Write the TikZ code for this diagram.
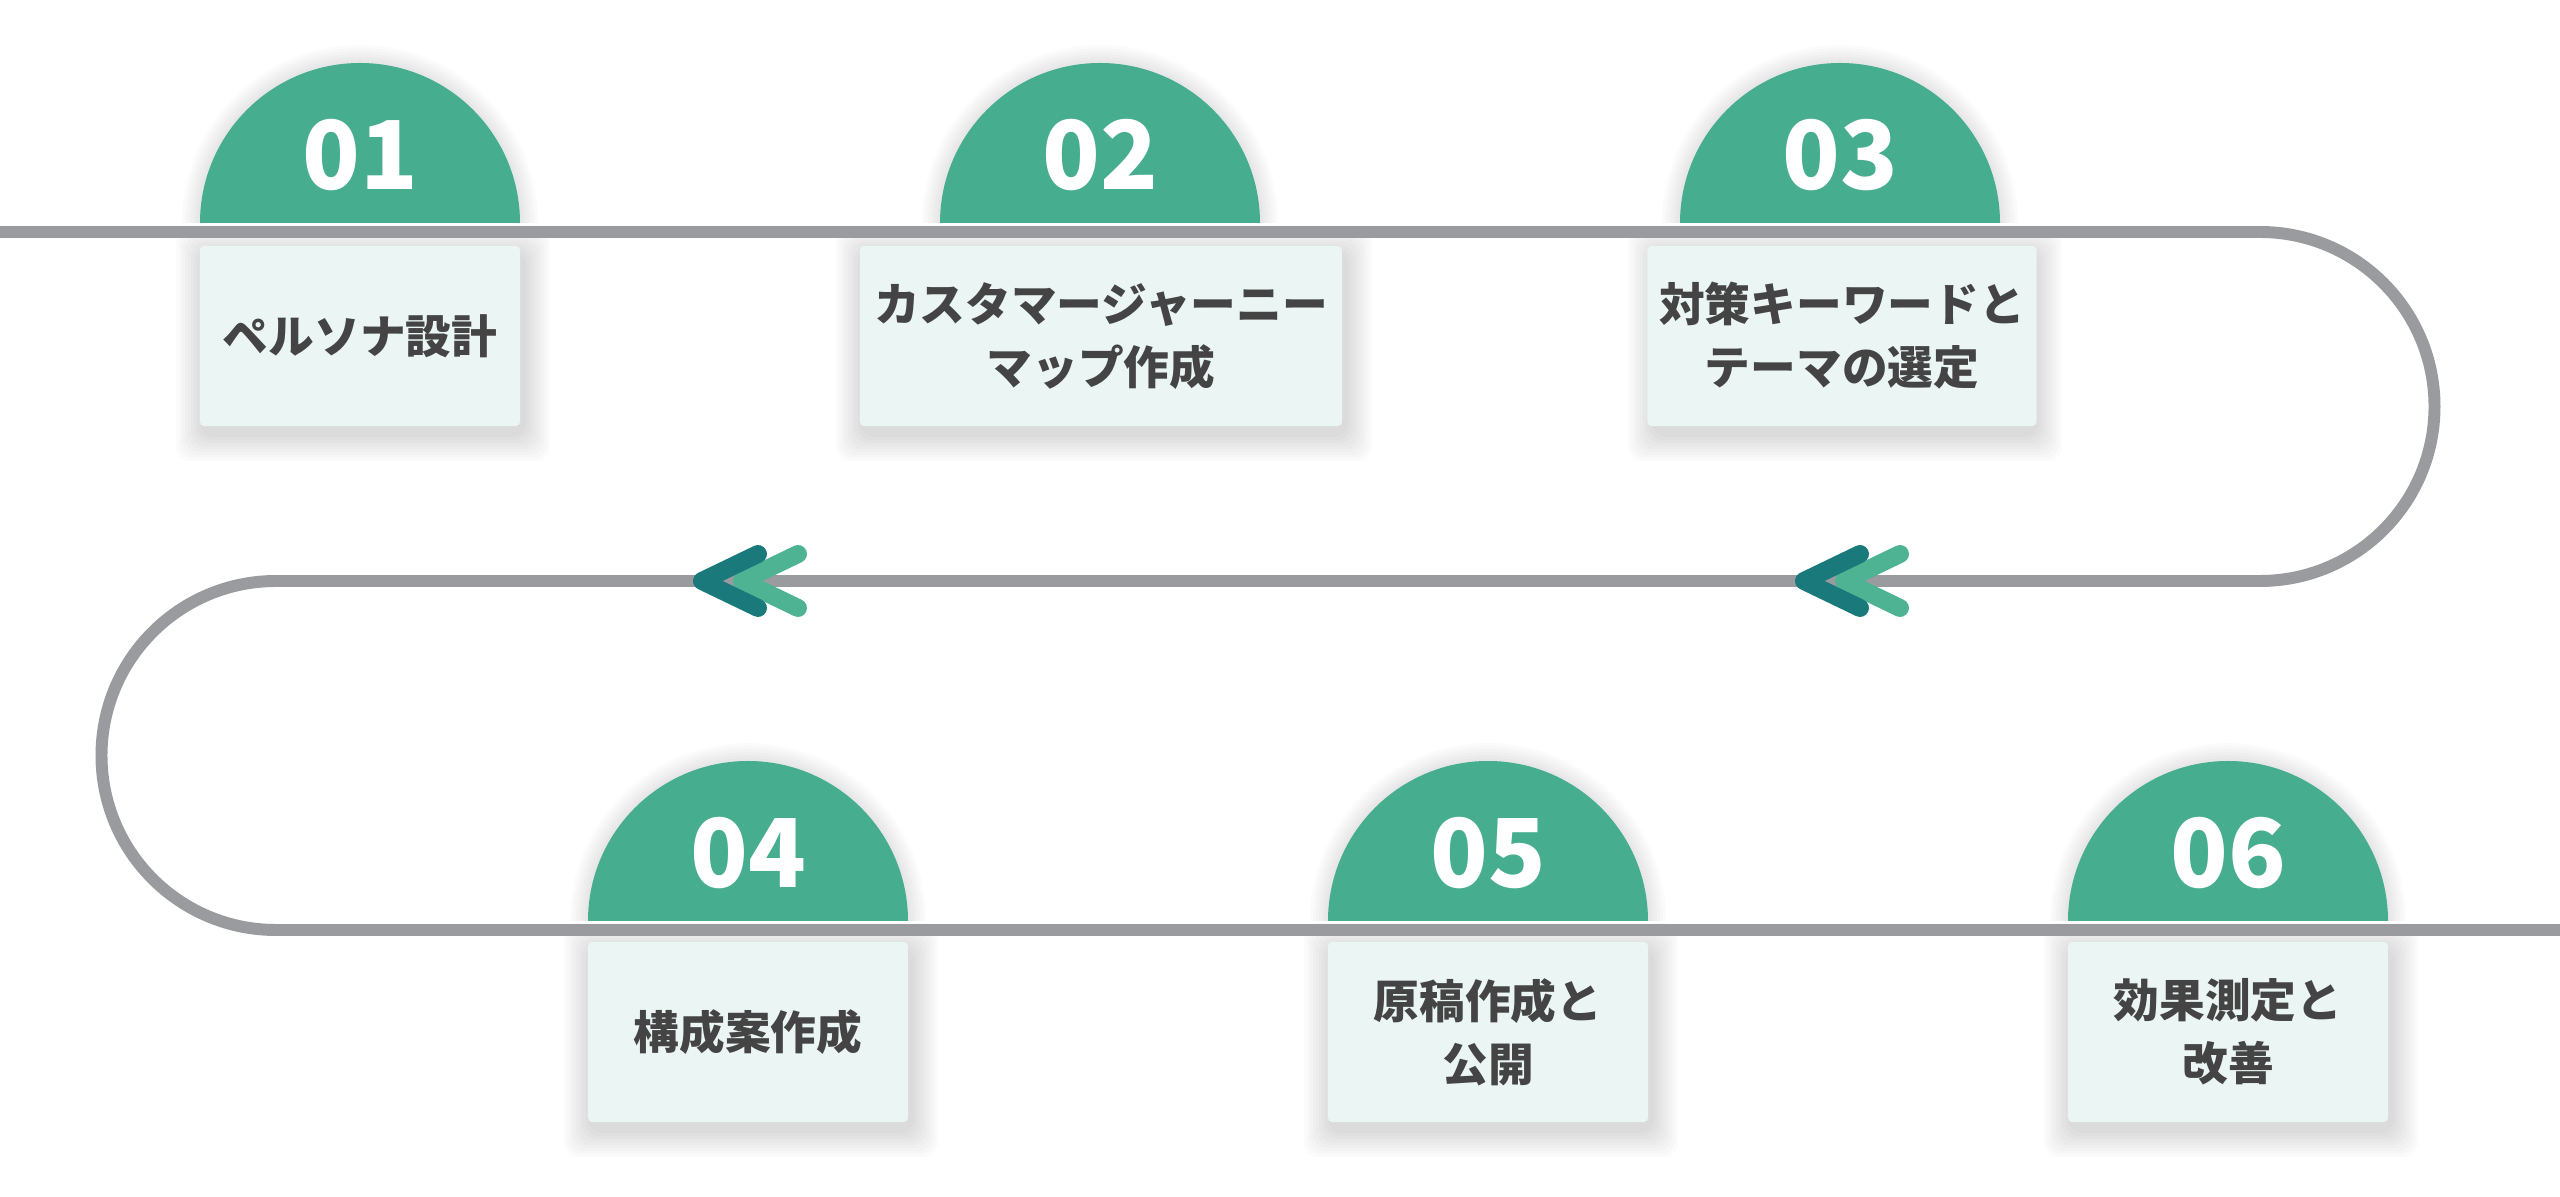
\documentclass[tikz,border=0pt]{standalone}
\usepackage{fontspec}
\setmainfont{Noto Sans CJK JP}
\definecolor{stepgreen}{HTML}{46AD8F}
\definecolor{boxfill}{HTML}{EAF5F4}
\definecolor{trackgray}{HTML}{999B9F}
\definecolor{darkteal}{HTML}{1A7A7B}
\definecolor{lightteal}{HTML}{4DB393}
\definecolor{labelgray}{HTML}{444444}
\tikzset{
  stepcap/.style={fill=stepgreen},
  stepnum/.style={anchor=base, text=white, font=\fontsize{27}{27}\selectfont\bfseries},
  stepbox/.style={fill=boxfill, rounded corners=1.2pt, minimum width=3.2cm, minimum height=1.8cm, align=center, text=labelgray, font=\fontsize{13}{17.9}\selectfont\bfseries},
  shade/.style={fill=black, opacity=0.014},
  track/.style={draw=trackgray, line width=3.4pt},
  chevdark/.style={draw=darkteal, line width=5.1pt, line cap=round, line join=round},
  chevlight/.style={draw=lightteal, line width=5.1pt, line cap=round, line join=round}
}
\newcommand\boxshade[4]{%
  \foreach \k in {1,...,9}{
    \fill[shade, rounded corners=4pt] ({#1-#3/2-\k*3+3},{#2-#4/2-\k*3-8}) rectangle ({#1+#3/2+\k*3+3},{#2+#4/2+\k*3-8});
  }}
\newcommand\capshade[2]{%
  \foreach \k in {1,...,6}{
    \fill[shade] ({#1-160-\k*3},#2) arc[start angle=180,end angle=0,radius={160+\k*3}] -- cycle;
  }}
\begin{document}
\begin{tikzpicture}[x=0.01cm,y=0.01cm]
\useasboundingbox (0,0) rectangle (2560,1197);
\fill[white] (0,0) rectangle (2560,1197);
\capshade{360}{974}
\capshade{1100}{974}
\capshade{1840}{974}
\capshade{748}{276}
\capshade{1488}{276}
\capshade{2228}{276}
\boxshade{360}{861}{320}{180}
\boxshade{1101}{861}{482}{180}
\boxshade{1842}{861}{380}{180}
\boxshade{748}{165}{320}{180}
\boxshade{1488}{165}{320}{180}
\boxshade{2228}{165}{320}{180}
\fill[stepcap] (200,974) arc[start angle=180,end angle=0,radius=160] -- cycle;
\fill[stepcap] (940,974) arc[start angle=180,end angle=0,radius=160] -- cycle;
\fill[stepcap] (1680,974) arc[start angle=180,end angle=0,radius=160] -- cycle;
\fill[stepcap] (588,276) arc[start angle=180,end angle=0,radius=160] -- cycle;
\fill[stepcap] (1328,276) arc[start angle=180,end angle=0,radius=160] -- cycle;
\fill[stepcap] (2068,276) arc[start angle=180,end angle=0,radius=160] -- cycle;
\node[stepnum] (n1) at (360,1007) {01};
\node[stepnum] (n2) at (1100,1007) {02};
\node[stepnum] (n3) at (1840,1007) {03};
\node[stepnum] (n4) at (748,309) {04};
\node[stepnum] (n5) at (1488,309) {05};
\node[stepnum] (n6) at (2228,309) {06};
\node[stepbox] (s1) at (360,861) {ペルソナ設計};
\node[stepbox, minimum width=4.82cm] (s2) at (1101,861) {カスタマージャーニー\\マップ作成};
\node[stepbox, minimum width=3.8cm] (s3) at (1842,861) {対策キーワードと\\テーマの選定};
\node[stepbox] (s4) at (748,165) {構成案作成};
\node[stepbox] (s5) at (1488,165) {原稿作成と\\公開};
\node[stepbox] (s6) at (2228,165) {効果測定と\\改善};
\coordinate (trackA) at (0,965);
\coordinate (trackB) at (2260,965);
\coordinate (trackC) at (276,616);
\coordinate (trackD) at (2560,267);
\draw[track] (trackA) -- (trackB) arc[start angle=90,end angle=-90,radius=174.5] -- (trackC) arc[start angle=90,end angle=270,radius=174.5] -- (trackD);
\draw[chevlight] (798,643) -- (742,616) -- (798,589);
\draw[chevdark] (758,643) -- (702,616) -- (758,589);
\draw[chevlight] (1900,643) -- (1844,616) -- (1900,589);
\draw[chevdark] (1860,643) -- (1804,616) -- (1860,589);
\end{tikzpicture}
\end{document}
